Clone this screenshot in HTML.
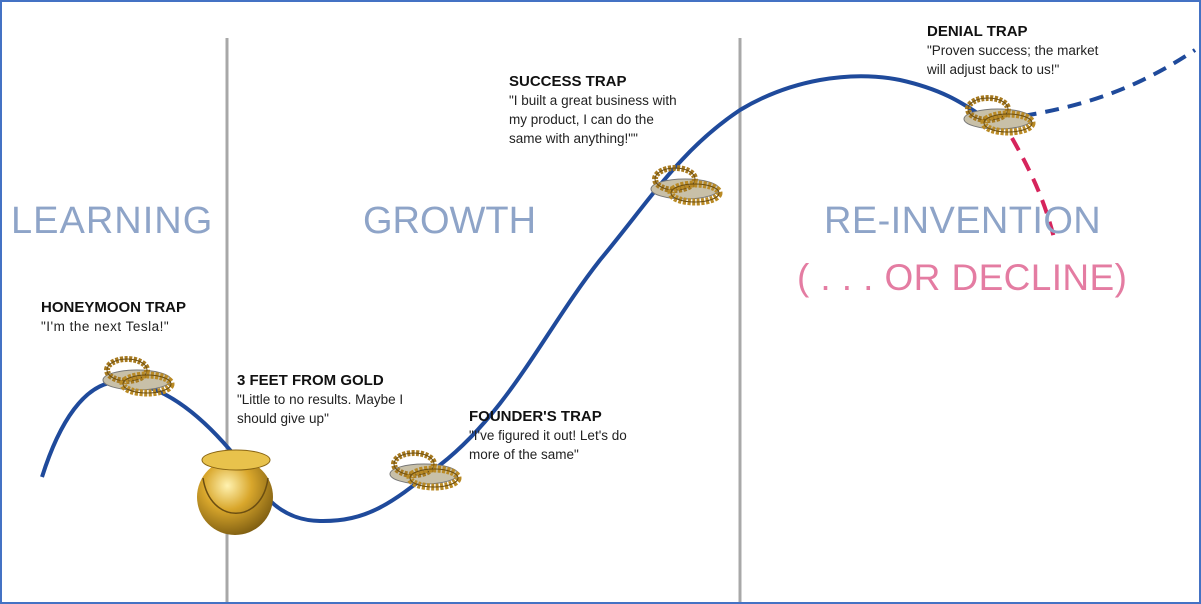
<!DOCTYPE html>
<html><head><meta charset="utf-8"><style>
html,body{margin:0;padding:0;background:#fff}
#w{position:relative;width:1201px;height:604px;box-sizing:border-box;border:2px solid #4472c4;overflow:hidden;font-family:"Liberation Sans",sans-serif}
.t{position:absolute;font-size:13.5px;color:#222;line-height:19px}
.t b{color:#111;font-size:15px}
.big{position:absolute;font-size:38px;color:#8ea4c8}
</style></head><body><div id="w">
<svg width="1201" height="604" style="position:absolute;left:-2px;top:-2px">
<defs>
<radialGradient id="g" cx="40%" cy="35%" r="70%"><stop offset="0" stop-color="#fff2b0"/><stop offset=".45" stop-color="#d9a72c"/><stop offset="1" stop-color="#7a5a10"/></radialGradient>
<g id="trap">
<ellipse cx="0" cy="4" rx="34" ry="10" fill="#c8c0a8" stroke="#777"/>
<ellipse cx="-10" cy="-6" rx="20" ry="11" fill="none" stroke="#a77a20" stroke-width="6" stroke-dasharray="3 1.5"/>
<ellipse cx="-10" cy="-6" rx="20" ry="11" fill="none" stroke="#6b4e12" stroke-width="1"/>
<ellipse cx="10" cy="8" rx="24" ry="9" fill="none" stroke="#b98a25" stroke-width="7" stroke-dasharray="3 1.5"/>
<ellipse cx="10" cy="8" rx="24" ry="9" fill="none" stroke="#6b4e12" stroke-width="1"/>
</g>
</defs>
<line x1="227" y1="38" x2="227" y2="604" stroke="#a8a8a8" stroke-width="3"/>
<line x1="740" y1="38" x2="740" y2="604" stroke="#a8a8a8" stroke-width="3"/>
<path d="M42,477 C60,420 85,385 115,382 C160,380 200,415 230,450 C260,490 275,520 320,521 C370,522 395,500 440,465 C510,410 545,330 600,260 C650,200 680,150 740,110 C790,80 850,70 900,80 C945,90 965,105 985,118" fill="none" stroke="#1f4a9b" stroke-width="4"/>
<path d="M1000,120 C1060,110 1120,100 1195,50" fill="none" stroke="#1f4a9b" stroke-width="4" stroke-dasharray="14 9"/>
<path d="M1012,138 C1030,170 1045,200 1055,242" fill="none" stroke="#d6245c" stroke-width="4" stroke-dasharray="14 9"/>
<use href="#trap" x="137" y="376"/>
<use href="#trap" x="424" y="470"/>
<use href="#trap" x="685" y="185"/>
<use href="#trap" x="998" y="115"/>
<circle cx="235" cy="497" r="38" fill="url(#g)"/>
<ellipse cx="236" cy="460" rx="34" ry="10" fill="#e8c24c" stroke="#8a6614"/>
<path d="M203,478 C210,525 262,525 268,478" fill="none" stroke="#6b4e12" stroke-width="1.5"/>
</svg>
<div class="big" style="left:9px;top:198px;letter-spacing:1px">LEARNING</div>
<div class="big" style="left:361px;top:198px">GROWTH</div>
<div class="big" style="left:822px;top:198px;letter-spacing:0.4px">RE-INVENTION</div>
<div class="big" style="left:795px;top:255px;color:#e47ca2;font-size:37px;letter-spacing:0.4px">( . . . OR DECLINE)</div>
<div class="t" style="left:39px;top:296px"><b>HONEYMOON TRAP</b><br><span style="letter-spacing:0.5px">"I'm the next Tesla!"</span></div>
<div class="t" style="left:235px;top:369px"><b>3 FEET FROM GOLD</b><br>"Little to no results. Maybe I<br>should give up"</div>
<div class="t" style="left:467px;top:405px"><b>FOUNDER'S TRAP</b><br>"I've figured it out! Let's do<br>more of the same"</div>
<div class="t" style="left:507px;top:70px"><b>SUCCESS TRAP</b><br>"I built a great business with<br>my product, I can do the<br>same with anything!""</div>
<div class="t" style="left:925px;top:20px"><b>DENIAL TRAP</b><br>"Proven success; the market<br>will adjust back to us!"</div>
</div></body></html>
